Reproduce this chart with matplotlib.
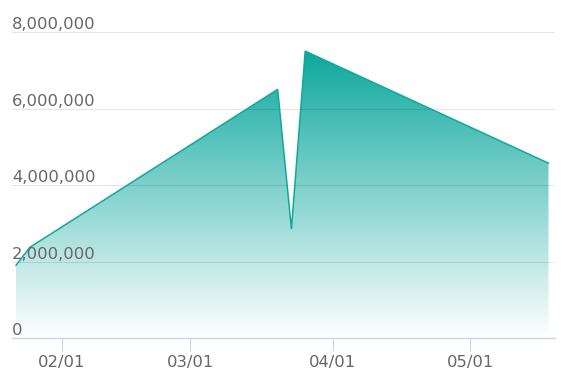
from datetime import datetime

import matplotlib

matplotlib.use("Agg")
import matplotlib.dates as mdates
import matplotlib.pyplot as plt
import numpy as np
from matplotlib.patches import Polygon
from matplotlib.ticker import FixedLocator

# data
dates = ["2021-01-22", "2021-01-25", "2021-03-20", "2021-03-23", "2021-03-26", "2021-05-18"]
values = [1900000, 2370000, 6500000, 2850000, 7500000, 4570000]
y_ticks = [0, 2000000, 4000000, 6000000, 8000000]
x_ticks = ["2021-02-01", "2021-03-01", "2021-04-01", "2021-05-01"]

line_color = "#12a89c"
top_color = np.array([0.05, 0.66, 0.62])
label_color = "#666666"
axis_color = "#ccd6eb"

x = mdates.date2num([datetime.strptime(d, "%Y-%m-%d") for d in dates])
y = np.array(values, dtype=float)

fig = plt.figure(figsize=(5.66, 3.89), dpi=100)
ax = fig.add_axes([12 / 566, 51 / 389, 543 / 566, 308 / 389])

ax.set_xlim(
    mdates.date2num(datetime(2021, 1, 21, 3)),
    mdates.date2num(datetime(2021, 5, 19, 10)),
)
ax.set_ylim(0, 8000000 * 308 / 306)

# gradient fill clipped to the area polygon
verts = np.column_stack([np.r_[x, x[-1], x[0]], np.r_[y, 0, 0]])
area = Polygon(verts, closed=True, facecolor="none", edgecolor="none", transform=ax.transData)
ax.add_patch(area)
t = np.linspace(0, 1, 256)[:, None]
grad = top_color[None, :] * (1 - t) + np.array([1.0, 1.0, 1.0])[None, :] * t
grad = grad[:, None, :]
im = ax.imshow(
    grad,
    extent=[x[0], x[-1], 0, y.max()],
    aspect="auto",
    origin="upper",
    interpolation="bilinear",
    zorder=1,
)
im.set_clip_path(area)

ax.plot(x, y, color=line_color, linewidth=1.1, zorder=3, solid_joinstyle="miter")

# y grid and in-plot labels
ax.yaxis.set_major_locator(FixedLocator(y_ticks))
ax.yaxis.grid(True, color="black", alpha=0.1, linewidth=0.8)
ax.set_axisbelow(False)
ax.tick_params(axis="y", length=0, labelleft=False)
for v in y_ticks:
    ax.annotate(
        f"{v:,}",
        xy=(0, v),
        xycoords=ax.get_yaxis_transform(),
        xytext=(0, 2),
        textcoords="offset points",
        ha="left",
        va="baseline",
        fontsize=11.8,
        color=label_color,
    )

# x axis
ax.set_xticks(mdates.date2num([datetime.strptime(d, "%Y-%m-%d") for d in x_ticks]))
ax.xaxis.set_major_formatter(mdates.DateFormatter("%m/%d"))
ax.tick_params(
    axis="x",
    length=9.5,
    width=0.8,
    color=axis_color,
    labelsize=11.8,
    labelcolor=label_color,
    pad=2.5,
)
for side in ["top", "left", "right"]:
    ax.spines[side].set_visible(False)
ax.spines["bottom"].set_color(axis_color)
ax.spines["bottom"].set_linewidth(1.0)
ax.spines["bottom"].set_zorder(4)

fig.savefig("out.png", dpi=100)
